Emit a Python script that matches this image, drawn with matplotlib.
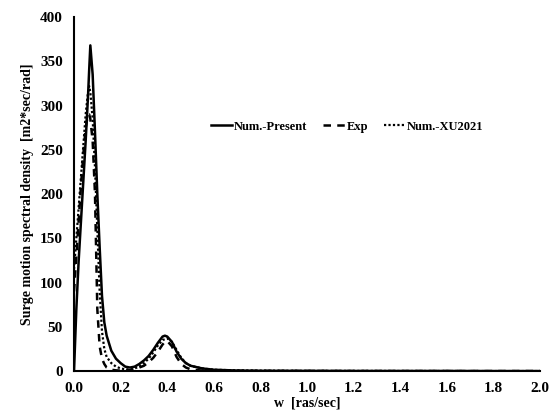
import numpy as np
import matplotlib.pyplot as plt

plt.rcParams['font.family'] = ['Liberation Serif', 'DejaVu Serif']
plt.rcParams['font.weight'] = 'bold'

# frequency [rad/sec]
w = [0.0, 0.01, 0.02, 0.03, 0.04, 0.05, 0.06, 0.065, 0.07, 0.08, 0.09, 0.10,
     0.11, 0.12, 0.13, 0.14, 0.16, 0.18, 0.20, 0.22, 0.24, 0.26, 0.28, 0.30,
     0.32, 0.34, 0.36, 0.38, 0.39, 0.40, 0.42, 0.44, 0.46, 0.48, 0.50, 0.55,
     0.60, 0.70, 0.80, 1.0, 1.2, 1.4, 1.6, 1.8, 2.0]

num_present = [0, 70, 125, 170, 215, 260, 310, 340, 368, 335, 270, 200,
               140, 85, 55, 40, 23, 14, 9, 5, 4, 5, 8, 12,
               17, 24, 32, 39, 40, 39, 33, 22, 14, 9, 6, 3,
               1.5, 0.6, 0.3, 0.2, 0.1, 0.1, 0.1, 0.0, 0.0]

exp = [90, 130, 170, 210, 245, 275, 290, 290, 285, 260, 200, 70,
       28, 14, 8, 4, 1.5, 0.8, 0.5, 0.5, 1, 2, 4, 6,
       10, 15, 22, 30, 33, 34, 28, 16, 8, 4, 2, 0.5,
       0.3, 0.2, 0.1, 0.1, 0.0, 0.0, 0.0, 0.0, 0.0]

num_xu2021 = [115, 150, 185, 220, 255, 290, 315, 322, 315, 285, 230, 160,
              90, 45, 25, 16, 9, 5, 3, 2, 2, 3, 5, 9,
              14, 21, 29, 35, 36, 37, 33, 24, 15, 9, 6, 3,
              1.5, 0.8, 0.5, 0.3, 0.2, 0.1, 0.1, 0.0, 0.0]

fig = plt.figure(figsize=(5.54, 4.16), dpi=100)
ax = fig.add_axes([0.1336, 0.108, 0.8414, 0.851])

ax.plot(w, num_present, color='black', lw=1.8, label='Num.-Present')
ax.plot(w, exp, color='black', lw=1.8, linestyle=(0, (3, 2.5)), label='Exp')
ax.plot(w, num_xu2021, color='black', lw=1.6, linestyle=(0, (1, 1)), label='Num.-XU2021')

ax.set_xlim(0, 2.0)
ax.set_ylim(0, 400)
ax.set_xticks(np.arange(0, 2.01, 0.2))
ax.set_xticklabels([f'{v:.1f}' for v in np.arange(0, 2.01, 0.2)])
ax.set_yticks(np.arange(0, 401, 50))
ax.tick_params(length=0, labelsize=11, pad=8)

for s in ['top', 'right']:
    ax.spines[s].set_visible(False)
ax.spines['left'].set_linewidth(1.5)
ax.spines['bottom'].set_linewidth(1.5)

ax.set_xlabel('w  [ras/sec]', fontsize=10, fontweight='bold', labelpad=1)
ax.set_ylabel('Surge motion spectral density  [m2*sec/rad]', fontsize=10,
              fontweight='bold', labelpad=4)

ax.legend(loc='center', bbox_to_anchor=(0.586, 0.69), ncol=3, frameon=False,
          fontsize=9, handlelength=1.7, handletextpad=0.15, columnspacing=1.3)

fig.savefig('out.png', dpi=100)
